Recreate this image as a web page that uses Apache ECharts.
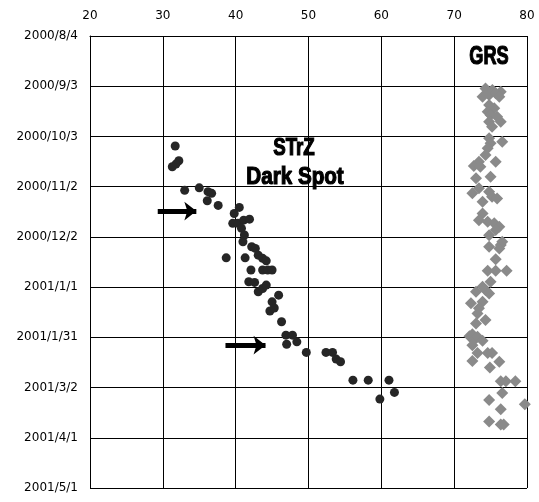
<!DOCTYPE html>
<html>
<head>
<meta charset="utf-8">
<script src="https://cdn.jsdelivr.net/npm/echarts@6/dist/echarts.min.js"></script>
<style>
  html, body { margin: 0; padding: 0; background: #fff; }
  #main { width: 539px; height: 502px; }
</style>
</head>
<body>
<div id="main"></div>
<script>
// y = days since 2000/8/4, labels every 30 days
const dateLabels = ['2000/8/4', '2000/9/3', '2000/10/3', '2000/11/2', '2000/12/2',
  '2001/1/1', '2001/1/31', '2001/3/2', '2001/4/1', '2001/5/1'];

// STrZ dark spot: [longitude, day]
const darkSpot = [
  [31.7, 65.7], [32.2, 74.5], [31.8, 76.5], [31.3, 78.1], [33.0, 92.2],
  [35.0, 90.7], [36.2, 93.0], [36.7, 94.0], [36.1, 98.4], [37.6, 101.2],
  [39.8, 106.0], [40.5, 102.4], [39.6, 111.9], [40.3, 111.9], [41.1, 110.0],
  [41.9, 109.4], [40.8, 114.9], [41.2, 118.9], [41.0, 122.9], [42.2, 125.9],
  [42.7, 126.9], [43.1, 130.9], [43.7, 132.8], [44.2, 134.3], [38.7, 132.5],
  [41.3, 132.5], [42.1, 139.8], [43.7, 139.8], [44.4, 139.8], [45.0, 139.8],
  [41.8, 146.8], [42.6, 147.2], [43.1, 152.8], [43.7, 150.8], [44.2, 148.8],
  [45.9, 154.8], [45.0, 158.8], [44.7, 164.3], [45.3, 162.5], [46.3, 170.7],
  [46.9, 178.7], [47.8, 178.7], [48.4, 182.7], [47.0, 184.1], [49.7, 189.0],
  [52.4, 189.0], [53.3, 189.0], [53.8, 193.0], [54.4, 194.6], [56.1, 205.6],
  [58.2, 205.6], [61.05, 205.6], [61.8, 212.9], [59.8, 216.9]
];

// GRS: [longitude, day]
const grs = [
  [74.3, 31.3], [75.25, 32.3], [76.4, 33.3], [73.9, 36.3], [74.8, 35.3],
  [75.7, 34.2], [76.2, 36.3], [74.8, 41.2], [75.5, 43.2], [74.6, 45.2],
  [75.0, 47.2], [75.9, 48.2], [76.4, 51.2], [74.8, 51.2], [75.2, 54.2],
  [74.8, 61.1], [75.0, 64.1], [76.6, 63.2], [74.6, 67.1], [74.3, 71.1],
  [73.4, 75.1], [72.7, 77.7], [73.6, 78.1], [75.7, 75.1], [75.0, 84.1],
  [73.0, 85.0], [72.5, 94.0], [73.4, 91.0], [74.8, 93.0], [75.2, 96.0],
  [75.9, 97.0], [73.9, 99.0], [73.9, 106.0], [73.4, 110.0], [74.6, 111.0],
  [75.5, 111.9], [76.2, 114.0], [74.8, 119.0], [75.7, 115.9], [74.8, 125.9],
  [76.4, 124.9], [76.6, 122.9], [76.2, 126.9], [75.7, 133.4], [74.6, 140.3],
  [75.7, 140.3], [77.2, 140.3], [75.0, 146.8], [73.9, 149.8], [73.0, 152.8],
  [74.3, 151.8], [74.8, 153.8], [72.3, 159.7], [73.9, 158.8], [73.4, 162.7],
  [73.2, 165.7], [73.0, 171.7], [74.3, 169.7], [72.1, 179.3], [72.5, 178.1],
  [72.7, 181.7], [73.2, 179.7], [73.9, 182.1], [72.5, 184.7], [73.2, 189.3],
  [74.6, 189.3], [75.2, 189.3], [72.5, 194.2], [76.2, 194.6], [74.9, 198.0],
  [76.4, 206.2], [77.1, 206.2], [78.4, 206.2], [76.6, 213.2], [74.8, 217.5],
  [79.7, 219.9], [76.4, 222.9], [74.8, 230.3], [76.4, 232.0], [76.8, 232.0]
];

// arrows (start, end) in data coords
const arrows = [
  [[29.3, 104.6], [34.6, 104.6]],
  [[38.6, 184.7], [44.1, 184.7]]
];

const chart = echarts.init(document.getElementById('main'));
const labelFont = { color: '#000', fontFamily: 'DejaVu Sans', fontSize: 12 };

function bigText(text, x, y, sx, size) {
  return {
    type: 'text', x: x, y: y, scaleX: sx,
    style: {
      text: text, fontFamily: 'Liberation Sans', fontWeight: 'bold', fontSize: size,
      fill: '#000', stroke: '#000', lineWidth: 1.2,
      align: 'center', verticalAlign: 'middle', textAlign: 'center', textVerticalAlign: 'middle'
    }
  };
}

chart.setOption({
  animation: false,
  backgroundColor: '#fff',
  grid: { left: 90, top: 36, right: 12, bottom: 14 },
  xAxis: {
    type: 'value', position: 'top', min: 20, max: 80, interval: 10,
    axisLine: { show: true, lineStyle: { color: '#000', width: 1 } },
    axisTick: { show: false },
    axisLabel: Object.assign({ margin: 14 }, labelFont),
    splitLine: { show: true, lineStyle: { color: '#000', width: 1 } }
  },
  yAxis: {
    type: 'value', inverse: true, min: 0, max: 270, interval: 30,
    axisLine: { show: true, lineStyle: { color: '#000', width: 1 } },
    axisTick: { show: false },
    axisLabel: Object.assign({ margin: 12, formatter: v => dateLabels[Math.round(v / 30)] }, labelFont),
    splitLine: { show: true, lineStyle: { color: '#000', width: 1 } }
  },
  series: [
    {
      name: 'STrZ Dark Spot', type: 'scatter', data: darkSpot,
      symbol: 'circle', symbolSize: 9,
      itemStyle: { color: '#262626', opacity: 1 },
      markLine: {
        silent: true, symbol: ['none', 'arrow'], symbolSize: [14, 12],
        label: { show: false },
        lineStyle: { color: '#000', width: 5, type: 'solid' },
        data: arrows.map(a => [{ coord: a[0] }, { coord: a[1] }])
      }
    },
    {
      name: 'GRS', type: 'scatter', data: grs,
      symbol: 'diamond', symbolSize: 12,
      itemStyle: { color: '#8a8a8a', opacity: 1 }
    }
  ],
  graphic: [
    bigText('STrZ', 294, 148, 0.78, 24),
    bigText('Dark Spot', 295, 177, 0.86, 24),
    bigText('GRS', 489, 57, 0.7, 26)
  ]
});
</script>
</body>
</html>
